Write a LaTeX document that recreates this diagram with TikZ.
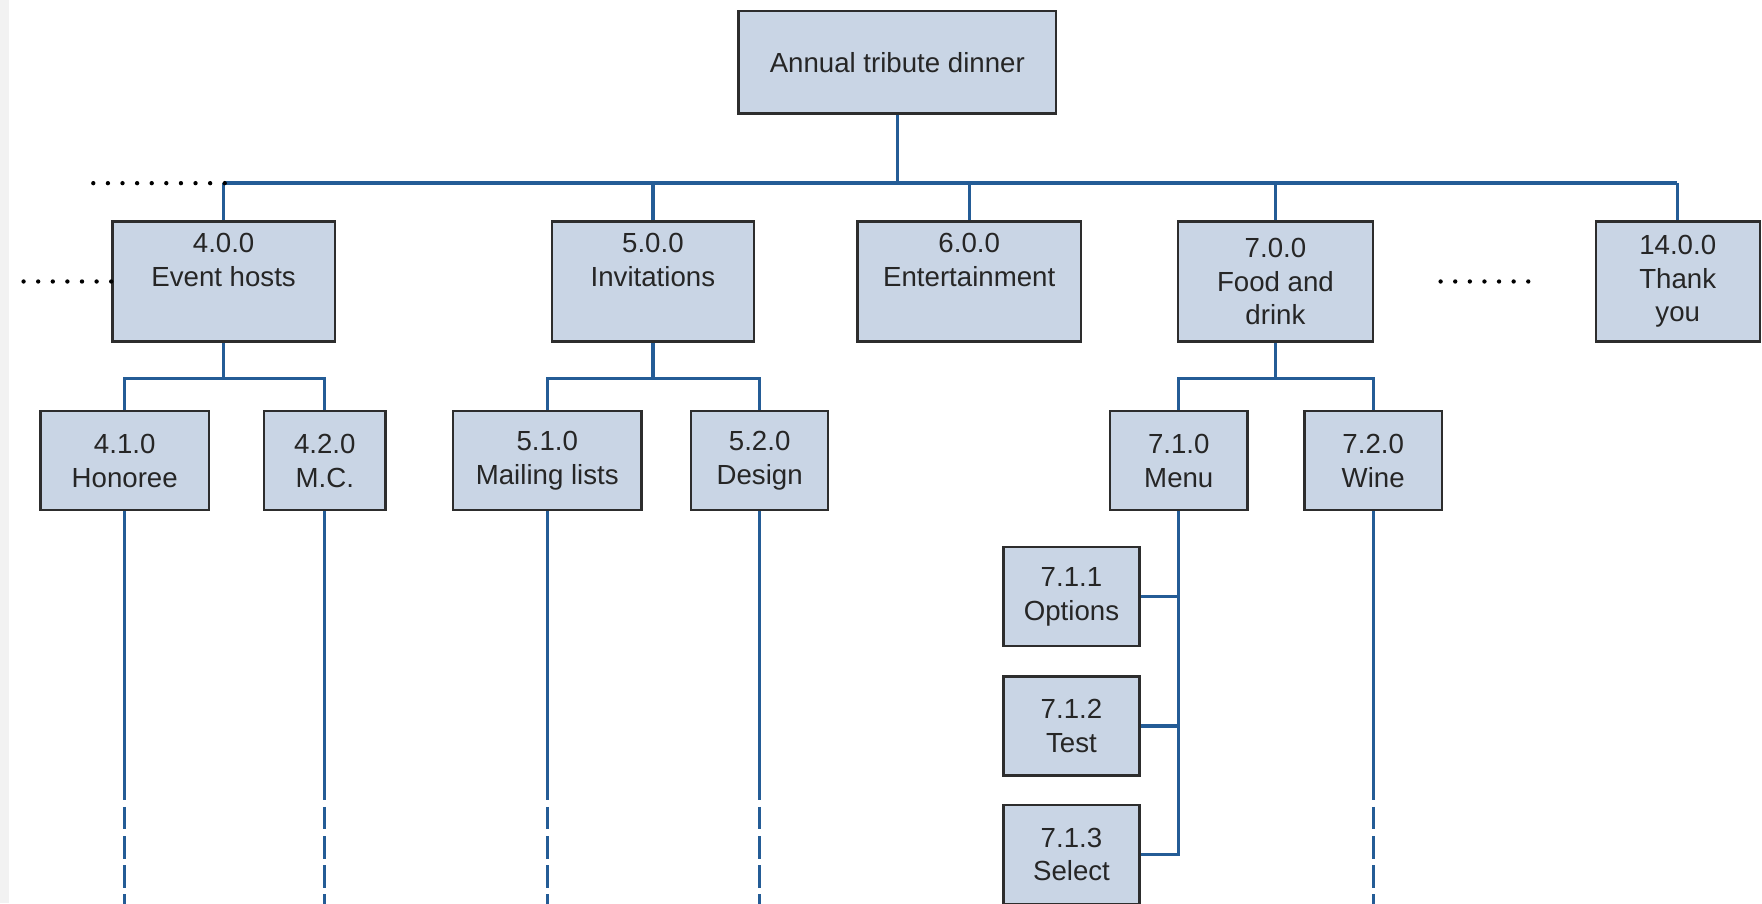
\documentclass[tikz,border=0pt]{standalone}
\usepackage{fontspec}
\setmainfont{Liberation Sans}
\usepackage{tikz}
\usetikzlibrary{calc}

\definecolor{wbsfill}{RGB}{201,213,229}
\definecolor{wbsline}{RGB}{36,92,150}
\definecolor{wbsedge}{RGB}{45,45,45}

\begin{document}
\begin{tikzpicture}[
    x=0.02cm, y=-0.02cm, % one unit = one pixel of the layout
    % --- Styles ---
    task/.style={draw=wbsedge, fill=wbsfill, line width=1.2pt, align=center, inner sep=0pt,
        text=black!85, font=\fontsize{14}{17}\selectfont},
    top task/.style={task, minimum height=2.14cm},
    sub task/.style={task, minimum height=1.76cm},
    link/.style={wbsline, line width=1.7pt},
    cut link/.style={link, dash pattern=on 0.4cm off 0.12cm},
    more/.style={line width=2.2pt, line cap=round, dash pattern=on 0pt off 0.26cm}
]
    \useasboundingbox (0,0) rectangle (1568,804);
    \fill[gray!10] (0,0) rectangle (8,804);

    %% --- ROOT ---
    \node[task, minimum width=5.66cm, minimum height=1.82cm] (root) at (798.5,55.5) {Annual tribute dinner};

    %% --- LEVEL 1 ---
    \node[top task, minimum width=3.96cm] (hosts) at (199,250.5) {4.0.0\\Event hosts\\\strut};
    \node[top task, minimum width=3.60cm] (invite) at (581,250.5) {5.0.0\\Invitations\\\strut};
    \node[top task, minimum width=3.98cm] (enter) at (862.5,250.5) {6.0.0\\Entertainment\\\strut};
    \node[top task, minimum width=3.48cm] (food) at (1135,250.5) {7.0.0\\Food and\\drink};
    \node[top task, minimum width=2.92cm] (thanks) at (1493,250.5) {14.0.0\\Thank\\you};

    %% --- LEVEL 2 ---
    \node[sub task, minimum width=3.00cm] (honor) at (111,410) {4.1.0\\Honoree};
    \node[sub task, minimum width=2.16cm] (mc) at (289,410) {4.2.0\\M.C.};
    \node[sub task, minimum width=3.36cm] (mail) at (487,410) {5.1.0\\Mailing lists};
    \node[sub task, minimum width=2.44cm] (design) at (676,410) {5.2.0\\Design};
    \node[sub task, minimum width=2.44cm] (menu) at (1049,410) {7.1.0\\Menu};
    \node[sub task, minimum width=2.44cm] (wine) at (1222,410) {7.2.0\\Wine};

    %% --- LEVEL 3 (menu) ---
    \node[sub task, minimum width=2.42cm] (options) at (953.5,531) {7.1.1\\Options};
    \node[sub task, minimum width=2.42cm] (test) at (953.5,646) {7.1.2\\Test};
    \node[sub task, minimum width=2.42cm] (select) at (953.5,760.5) {7.1.3\\Select};

    % Helper points
    \coordinate (busL) at (200,163);
    \coordinate (busR) at (1492,163);
    \coordinate (subY) at (0,337);
    \coordinate (cutY) at (0,712);
    \coordinate (dashY) at (0,718);
    \coordinate (botY) at (0,806);

    % Main bus
    \draw[link] (root.south) -- (root.south |- busL);
    \draw[link] (busL) -- (busR);
    \foreach \n in {hosts, invite, enter, food, thanks}
        \draw[link] (\n.north) -- (\n.north |- busL);

    % Sub buses
    \draw[link] (hosts.south) -- (hosts.south |- subY);
    \draw[link] (honor.north) |- (hosts.south |- subY) -| (mc.north);
    \draw[link] (invite.south) -- (invite.south |- subY);
    \draw[link] (mail.north) |- (invite.south |- subY) -| (design.north);
    \draw[link] (food.south) -- (food.south |- subY);
    \draw[link] (menu.north) |- (food.south |- subY) -| (wine.north);

    % Menu breakdown
    \draw[link] (menu.south) |- (select.east);
    \draw[link] (options.east) -- (options.east -| menu.south);
    \draw[link] (test.east) -- (test.east -| menu.south);

    % Branches running off the page
    \foreach \n in {honor, mc, mail, design, wine} {
        \draw[link] (\n.south) -- (\n.south |- cutY);
        \draw[cut link] (\n.south |- dashY) -- (\n.south |- botY);
    }

    % Omitted items
    \coordinate (dotsTop) at (78,163);
    \coordinate (dotsLeft) at (12,250.5);
    \coordinate (gapA) at (1282,250.5);
    \coordinate (gapB) at (1370,250.5);
    \draw[more] (busL) -- (dotsTop);
    \draw[more] (hosts.west) -- (dotsLeft);
    \draw[more] (gapA) -- (gapB);
\end{tikzpicture}
\end{document}
